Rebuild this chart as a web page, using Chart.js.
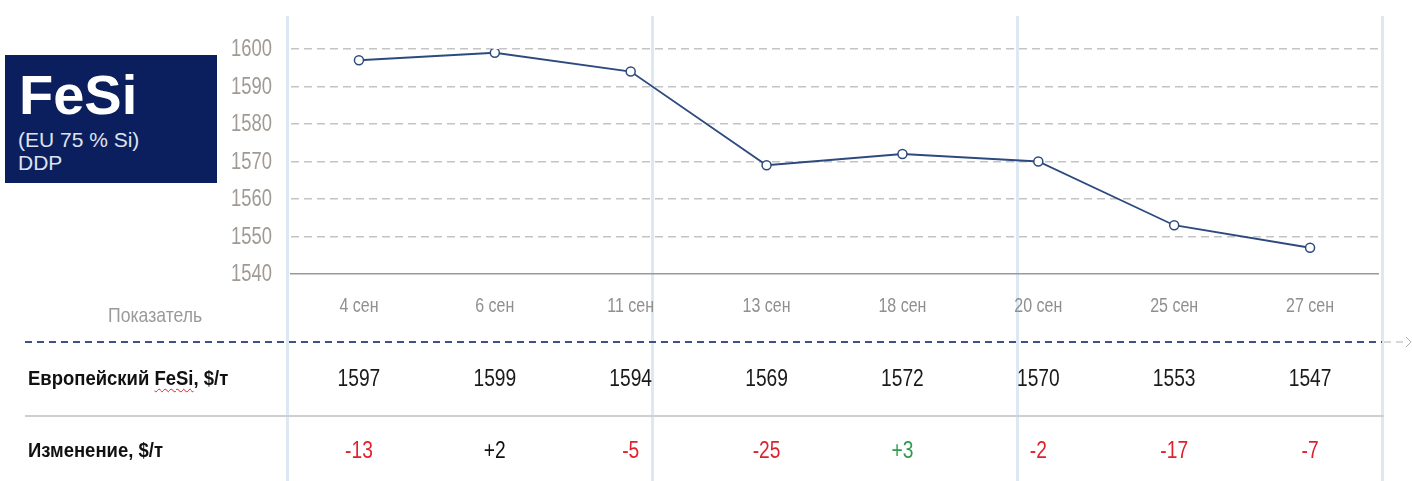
<!DOCTYPE html>
<html>
<head>
<meta charset="utf-8">
<script src="https://cdn.jsdelivr.net/npm/chart.js@4"></script>
<style>
  body { margin: 0; background: #fff; width: 1412px; height: 481px; overflow: hidden; position: relative; }
  #wrap { position: absolute; left: 0; top: 0; width: 1412px; height: 481px; }
  .vline { position: absolute; top: 16px; bottom: 0; width: 3px; background: #dde8f5; }
  #badge { position: absolute; left: 5px; top: 55px; width: 212px; height: 128px; background: #0b1f5e; color: #fff; font-family: 'Liberation Sans', Arial, sans-serif; }
  #badge .big { position: absolute; left: 14px; top: 12px; font-size: 56px; font-weight: bold; line-height: 1; }
  #badge .sub { position: absolute; left: 13px; top: 73px; font-size: 21px; line-height: 23px; color: #dfe3ee; }
  .rowlabel { position: absolute; left: 28px; font-family: 'Liberation Sans', Arial, sans-serif; font-weight: bold; font-size: 21px; color: #111; transform: scaleX(0.88); transform-origin: left center; white-space: nowrap; }
  .spell { text-decoration: underline wavy #e02020; text-decoration-thickness: 1px; text-underline-offset: 3px; }
  #pok { position: absolute; left: 108px; top: 303px; font-family: 'Liberation Sans', Arial, sans-serif; font-size: 21px; color: #9a9a9a; transform: scaleX(0.84); transform-origin: left center; white-space: nowrap; }
</style>
</head>
<body>
<div id="wrap">
  <div class="vline" style="left:286px"></div>
  <div class="vline" style="left:651px"></div>
  <div class="vline" style="left:1016px"></div>
  <div class="vline" style="left:1381px"></div>
  <canvas id="chart" width="1412" height="481" style="position:absolute;left:0;top:0"></canvas>
  <div id="badge">
    <div class="big">FeSi</div>
    <div class="sub">(EU 75 % Si)<br>DDP</div>
  </div>
  <div id="pok">Показатель</div>
  <div class="rowlabel" style="top:366px">Европейский <span class="spell">FeSi</span>, $/т</div>
  <div class="rowlabel" style="top:438px">Изменение, $/т</div>
</div>
<script>
// data
const dates = ['4 сен', '6 сен', '11 сен', '13 сен', '18 сен', '20 сен', '25 сен', '27 сен'];
const prices = [1597, 1599, 1594, 1569, 1572, 1570, 1553, 1547];
const changes = ['-13', '+2', '-5', '-25', '+3', '-2', '-17', '-7'];
const yTicks = [1540, 1550, 1560, 1570, 1580, 1590, 1600];

const navy = '#2d4a7e';

function changeColor(s) {
    if (s.startsWith('+') && s !== '+2') return '#2e9a4e';
    if (s.startsWith('-')) return '#e0202c';
    return '#111';
}

// no narrow font installed, so squeeze regular Liberation Sans horizontally
function narrowText(ctx, text, x, y, size, color, align) {
    ctx.save();
    ctx.translate(x, y);
    ctx.scale(0.8, 1);
    ctx.font = size + "px 'Liberation Sans', Arial, sans-serif";
    ctx.fillStyle = color;
    ctx.textAlign = align || 'center';
    ctx.textBaseline = 'middle';
    ctx.fillText(text, 0, 0);
    ctx.restore();
}

// axis labels + table rows, lined up with the chart scales
const tablePlugin = {
    id: 'table',
    afterDraw(chart) {
        const ctx = chart.ctx;
        const x = chart.scales.x;
        const y = chart.scales.y;
        ctx.save();

        yTicks.forEach(v => {
            narrowText(ctx, String(v), 272, y.getPixelForValue(v) + 1, 23, '#a09a94', 'right');
        });
        dates.forEach((d, i) => {
            narrowText(ctx, d, x.getPixelForValue(i), 306, 20, '#8f8f8f');
        });

        // dashed separator under the header
        ctx.lineWidth = 2;
        ctx.setLineDash([7, 5]);
        ctx.strokeStyle = '#3b5488';
        ctx.beginPath();
        ctx.moveTo(25, 342);
        ctx.lineTo(1382, 342);
        ctx.stroke();
        ctx.lineWidth = 1;
        ctx.strokeStyle = '#b0b0b0';
        ctx.beginPath();
        ctx.moveTo(1384, 342);
        ctx.lineTo(1404, 342);
        ctx.stroke();
        ctx.setLineDash([]);
        ctx.beginPath();
        ctx.moveTo(1406, 337);
        ctx.lineTo(1411, 342);
        ctx.lineTo(1406, 347);
        ctx.stroke();

        // solid separator between rows
        ctx.strokeStyle = '#cfcfcf';
        ctx.lineWidth = 2;
        ctx.beginPath();
        ctx.moveTo(25, 416);
        ctx.lineTo(1384, 416);
        ctx.stroke();

        prices.forEach((p, i) => {
            narrowText(ctx, String(p), x.getPixelForValue(i), 379, 24, '#1a1a1a');
        });
        changes.forEach((c, i) => {
            narrowText(ctx, c, x.getPixelForValue(i), 451, 24, changeColor(c));
        });
        ctx.restore();
    }
};

new Chart(document.getElementById('chart'), {
    type: 'line',
    data: {
        labels: dates,
        datasets: [{
            data: prices,
            borderColor: navy,
            borderWidth: 1.8,
            pointRadius: 4.5,
            pointBorderWidth: 1.5,
            pointBackgroundColor: '#fff',
            pointBorderColor: navy,
            tension: 0
        }]
    },
    options: {
        responsive: false,
        animation: false,
        layout: { padding: { left: 211, right: 34, top: 49, bottom: 167 } },
        plugins: { legend: { display: false }, tooltip: { enabled: false } },
        scales: {
            x: {
                offset: true,
                afterFit: s => { s.height = 40; },
                grid: { display: false, drawTicks: false },
                border: { display: true, color: '#9a9a9a', width: 1.5 },
                ticks: { display: false }
            },
            y: {
                min: 1540,
                max: 1600,
                afterFit: s => { s.width = 80; },
                afterBuildTicks: s => { s.ticks = yTicks.map(v => ({ value: v })); },
                grid: {
                    drawTicks: false,
                    color: c => c.tick.value === 1540 ? 'rgba(0,0,0,0)' : '#c4c4c4',
                    lineWidth: 1.5
                },
                border: { display: false, dash: [8, 5] },
                ticks: { display: false }
            }
        }
    },
    plugins: [tablePlugin]
});
</script>
</body>
</html>
